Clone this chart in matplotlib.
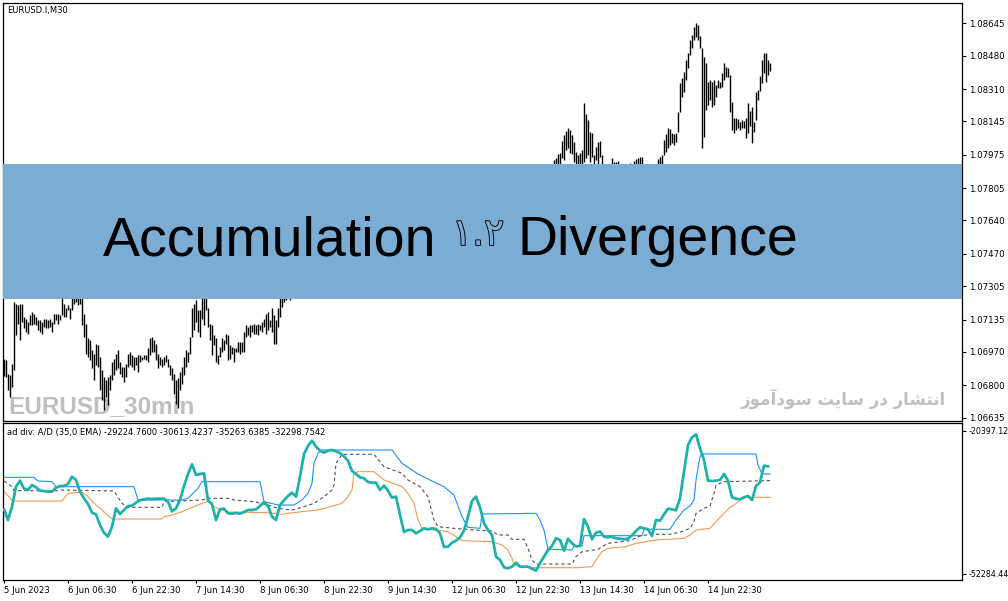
import numpy as np
import matplotlib
matplotlib.use('Agg')
import matplotlib.pyplot as plt
import matplotlib.patheffects as pe
from matplotlib import font_manager
from matplotlib.patches import Rectangle

# EURUSD M30 bars, price in points (1e-5) above 1.00000
bar_high = [
    6936, 6928, 6860, 6851, 6911, 7225, 7217, 7208, 7217, 7214,
    7149, 7140, 7124, 7158, 7175, 7166, 7149, 7132, 7132, 7124,
    7140, 7140, 7132, 7140, 7124, 7166, 7166, 7166, 7158, 7265,
    7217, 7192, 7208, 7192, 7270, 7290, 7300, 7280, 7275, 7260,
    7166, 7115, 7039, 7030, 6979, 6962, 7013, 7005, 6945, 6877,
    6843, 6826, 6843, 6851, 6920, 6936, 6962, 6979, 6920, 6894,
    6894, 6911, 6962, 6970, 6953, 6945, 6945, 6953, 6953, 6945,
    6953, 6953, 6988, 7039,
    7047, 7030, 7013, 6962, 6945, 6936, 6945, 6953, 6936, 6903,
    6886, 6860, 6826, 6835, 6868, 6894, 6945, 6979, 6970, 7047,
    7192, 7217, 7234, 7183, 7183, 7270, 7260, 7280, 7192, 7115,
    7107, 7056, 7039, 6953, 6996, 7039, 7030, 7064, 7056, 7005,
    6996, 6988, 6988, 7022, 7022, 7022, 7073, 7107, 7098, 7107,
    7107, 7115, 7107, 7115, 7107, 7124, 7140, 7166, 7175, 7132,
    7192, 7158, 7132, 7192, 7300, 7310, 7320, 7330, 7340, 7335,
    7330, 7370, 7420, 7480, 7460, 7530, 7590, 7650, 7700, 7760,
    7745, 7720, 7705, 7735, 7765, 7790, 7805, 7790, 7775, 7770,
    7780, 7795, 7805, 7795, 7780, 7775, 7790, 7805, 7815, 7800,
    7790, 7775, 7765, 7755, 7745, 7735, 7730, 7750, 7760, 7740,
    7720, 7700, 7690, 7715, 7735, 7750, 7770, 7760, 7740, 7725,
    7700, 7680, 7665, 7650, 7645, 7630, 7620, 7615, 7600, 7590,
    7585, 7570, 7560, 7550, 7540, 7520, 7500, 7485, 7460, 7450,
    7470, 7505, 7520, 7555, 7570, 7590, 7605, 7580, 7560, 7545,
    7520, 7505, 7480, 7465, 7450, 7440, 7430, 7420, 7435, 7440,
    7455, 7440, 7430, 7420, 7410, 7400, 7395, 7380, 7370, 7385,
    7390, 7405, 7420, 7445, 7460, 7485, 7500, 7490, 7480, 7470,
    7485, 7500, 7525, 7540, 7565, 7580, 7600, 7625, 7640, 7665,
    7680, 7705, 7720, 7745, 7760, 7785, 7800, 7820, 7845, 7860, 7885,
    7948, 7957, 7977, 7985, 8045, 8075, 8096, 8109, 8101, 8075,
    8041, 7990, 7973, 7982, 7999, 8237, 8181, 8152, 8092, 8084,
    7973, 8016, 8041, 8045, 7973, 7920, 7910, 7915, 7905, 7960,
    7940, 7940, 7945, 7920, 7915, 7910, 7905, 7915, 7932, 7925,
    7943, 7953, 7960, 7965, 7965, 7930, 7925, 7915, 7905, 7900,
    7910, 7920, 7953, 7965, 7973, 8050, 8079, 8109, 8104, 8084,
    8079, 8084, 8194, 8339, 8364, 8398, 8458, 8492, 8560, 8585,
    8628, 8645, 8636, 8582, 8517, 8475, 8441, 8348, 8356, 8348,
    8356, 8331, 8356, 8348, 8390, 8441, 8424, 8415, 8381, 8245,
    8160, 8160, 8157, 8143, 8152, 8147, 8160, 8239, 8200, 8218,
    8142, 8295, 8305, 8376, 8458, 8494, 8494, 8458, 8443,
]
bar_low = [
    6846, 6840, 6775, 6741, 6792, 6877, 7055, 7115, 7030, 7124,
    7090, 7073, 7064, 7107, 7107, 7115, 7107, 7081, 7073, 7064,
    7098, 7090, 7090, 7098, 7073, 7115, 7132, 7115, 7132, 7158,
    7149, 7149, 7183, 7140, 7183, 7217, 7225, 7208, 7217, 7107,
    7047, 6962, 6945, 6928, 6886, 6826, 6903, 6894, 6775, 6724,
    6673, 6741, 6699, 6775, 6826, 6851, 6877, 6886, 6860, 6843,
    6818, 6843, 6894, 6903, 6894, 6877, 6903, 6869, 6920, 6928,
    6936, 6928, 6920, 6953,
    6970, 6970, 6928, 6886, 6903, 6894, 6903, 6920, 6894, 6851,
    6826, 6758, 6707, 6682, 6775, 6809, 6851, 6894, 6920, 6962,
    7047, 7081, 7124, 7073, 7047, 7140, 7107, 7183, 7098, 7030,
    6953, 7005, 6920, 6911, 6945, 6970, 6979, 7013, 6928, 6936,
    6962, 6920, 6970, 6970, 6962, 6970, 6970, 7047, 7056, 7047,
    7073, 7064, 7064, 7056, 7081, 7073, 7098, 7064, 7081, 7098,
    7073, 7013, 7013, 7098, 7149, 7200, 7225, 7234, 7250, 7234,
    7250, 7285, 7330, 7395, 7400, 7430, 7505, 7550, 7610, 7665,
    7680, 7650, 7640, 7670, 7700, 7720, 7750, 7740, 7735, 7730,
    7740, 7750, 7760, 7755, 7745, 7740, 7750, 7765, 7770, 7760,
    7745, 7730, 7720, 7700, 7690, 7680, 7670, 7690, 7700, 7680,
    7650, 7630, 7620, 7640, 7660, 7680, 7700, 7690, 7660, 7640,
    7610, 7590, 7570, 7560, 7550, 7540, 7530, 7520, 7510, 7500,
    7490, 7480, 7470, 7460, 7440, 7420, 7400, 7380, 7370, 7360,
    7380, 7410, 7430, 7460, 7490, 7510, 7520, 7500, 7480, 7460,
    7440, 7420, 7400, 7380, 7370, 7360, 7350, 7340, 7350, 7360,
    7370, 7360, 7350, 7330, 7320, 7310, 7300, 7290, 7280, 7290,
    7300, 7310, 7330, 7350, 7370, 7390, 7410, 7400, 7390, 7380,
    7390, 7410, 7430, 7450, 7470, 7490, 7510, 7530, 7550, 7570,
    7590, 7610, 7630, 7650, 7670, 7690, 7710, 7730, 7750, 7770, 7800,
    7900, 7905, 7920, 7930, 7957, 7948, 8000, 8007, 7982, 7977,
    7940, 7925, 7915, 7925, 7930, 7940, 7957, 7973, 7940, 7965,
    7910, 7948, 7925, 7965, 7925, 7870, 7860, 7865, 7855, 7900,
    7895, 7925, 7900, 7880, 7870, 7865, 7860, 7870, 7890, 7885,
    7895, 7905, 7910, 7930, 7915, 7880, 7875, 7860, 7850, 7845,
    7855, 7870, 7900, 7930, 7920, 7973, 7990, 8007, 8024, 8033,
    8024, 8041, 8092, 8194, 8271, 8296, 8356, 8415, 8483, 8517,
    8560, 8577, 8560, 8517, 8011, 8067, 8203, 8228, 8254, 8220,
    8228, 8271, 8313, 8313, 8322, 8356, 8373, 8373, 8194, 8101,
    8084, 8101, 8109, 8101, 8109, 8109, 8062, 8086, 8120, 8035,
    8090, 8150, 8254, 8300, 8341, 8392, 8346, 8382, 8402,
]

# A/D line, one reading every 2 bars
ad_line = [
    -37895, -40268, -37301, -32851, -31516, -33296, -33593, -32480, -32999, -33741,
    -33815, -33964, -33964, -33074, -32703, -32703, -32258, -30626, -31368, -33964,
    -35447, -36708, -38636, -39007, -41381, -43086, -43977, -41751, -37672, -38933,
    -38043, -37153, -37079, -36411, -35892, -35669, -35521, -35595, -35521, -35521,
    -35521, -36189, -38340, -37672, -35818, -32703, -30033, -27882, -30255, -30033,
    -29884, -35892, -36708, -40268, -37895, -37746, -38785, -38859, -38710, -38859,
    -38488, -38043, -38043, -37895, -37153, -36263, -37153, -39526, -40268, -36930,
    -35892, -34928, -34186, -35076, -30626, -25582, -23802, -22616, -23951, -24841,
    -25286, -24841, -24692, -24989, -25360, -26102, -27066, -29365, -30033, -30774,
    -30997, -31813, -31961, -31961, -33593, -32628, -33741, -35299, -35076, -39155,
    -42938, -42493, -42493, -43235, -42716, -42122, -42345, -42122, -42271, -43235,
    -46276, -46202, -45312, -44867, -44125, -42641, -39526, -36040, -35076, -37450,
    -41010, -42493, -43606, -48427, -49168,
    -50800, -51023, -50652, -49762, -50652, -50652, -50652, -51097, -51542, -49910,
    -48427, -46943, -46053, -44347, -44718, -47092, -44422, -45460, -46127, -46053,
    -40045, -41751, -44570, -43086, -42864, -43977, -44125, -43977, -44347, -44422,
    -44570, -44422, -43680, -42716, -41900, -42122, -42345, -43828, -40268, -40416,
    -39007, -37746, -37895, -38117, -35447, -29513, -23580, -21874, -21206, -24321,
    -26917, -31516, -31590, -31516, -31368, -30033, -31516, -35224, -35521, -35669,
    -35224, -34928, -35818, -32703, -31887, -28178, -28327,
]

# channel lines as (bar index, value) readings
upper_idx = [0, 15, 17, 24, 26, 65, 67, 89, 92, 97, 99, 128, 130, 137, 145, 149,
             152, 154, 155, 157, 159, 194, 199, 207, 214, 220, 225, 229, 232, 238,
             239, 266, 268, 270, 272, 284, 285, 289, 290, 319, 320, 333, 336, 340,
             343, 345, 346, 348, 349, 376, 377, 379, 383]
upper_val = [-30774, -30774, -31590, -31738, -32851, -32851, -35818, -35818, -35447,
             -33222, -31738, -31738, -36189, -36930, -36930, -35818, -34334, -32109,
             -27659, -25434, -24692, -24692, -27659, -30033, -31590, -32851, -34705,
             -39526, -41900, -42122, -38933, -38785, -40268, -42493, -46795, -46943,
             -46053, -46053, -43754, -43754, -42345, -42345, -40268, -38043, -37153,
             -35818, -31368, -26176, -25582, -25582, -28030, -30033, -30033]

mid_idx = [0, 4, 5, 27, 29, 55, 59, 62, 79, 80, 99, 102, 112, 115, 125, 132, 137,
           144, 149, 155, 160, 164, 165, 166, 169, 185, 190, 199, 202, 208, 212, 215,
           217, 225, 235, 244, 247, 252, 254, 260, 262, 264, 266, 284, 286, 289, 297,
           299, 302, 313, 318, 323, 333, 339, 343, 345, 346, 350, 353, 355, 356, 360, 383]
mid_val = [-31590, -32851, -33741, -33741, -33593, -33815, -36560, -37449, -37449,
           -36189, -35818, -35447, -35447, -35818, -36189, -36930, -37672, -38043,
           -37449, -36560, -35076, -33593, -32480, -27659, -25657, -25657, -28401,
           -29884, -31368, -32851, -35076, -40268, -41751, -42122, -42493, -42716,
           -43606, -43606, -44570, -44570, -46572, -49168, -50058, -50058, -48427,
           -47314, -46795, -46202, -45460, -44867, -43828, -43457, -43457, -42864,
           -42122, -40639, -38785, -37672, -37153, -34334, -32480, -31738, -31516]

lower_idx = [0, 4, 5, 29, 32, 39, 42, 45, 49, 54, 79, 80, 84, 89, 95, 99, 102, 105,
             112, 132, 139, 142, 149, 157, 162, 169, 172, 174, 175, 177, 185, 190, 199,
             202, 205, 207, 209, 215, 222, 226, 229, 244, 249, 252, 254, 255, 259, 265,
             287, 294, 296, 299, 302, 311, 316, 326, 340, 343, 346, 353, 356, 360, 363,
             365, 370, 383]
lower_val = [-33964, -35818, -36040, -36040, -34334, -34037, -35076, -36560, -38043,
             -40045, -40045, -39526, -39155, -38414, -37301, -36560, -36189, -37301,
             -38488, -38636, -39007, -38785, -38414, -38043, -37449, -36560, -35076,
             -33593, -29884, -29513, -29513, -31368, -32851, -34334, -36560, -40268,
             -42122, -42493, -42864, -43977, -44867, -45089, -45831, -46943, -48798,
             -50281, -50652, -50875, -50875, -50652, -49168, -47314, -46572, -46202,
             -45460, -44719, -44347, -43606, -42493, -42122, -40639, -38785, -37449,
             -36930, -35224, -35224]

price_ticks = [1.08645, 1.08480, 1.08310, 1.08145, 1.07975, 1.07805, 1.07640,
               1.07470, 1.07305, 1.07135, 1.06970, 1.06800, 1.06635]
ad_ticks = [-20397.12, -52284.44]
time_labels = ['5 Jun 2023', '6 Jun 06:30', '6 Jun 22:30', '7 Jun 14:30',
               '8 Jun 06:30', '8 Jun 22:30', '9 Jun 14:30', '12 Jun 06:30',
               '12 Jun 22:30', '13 Jun 14:30', '14 Jun 06:30', '14 Jun 22:30']
label_step = 32

plt.rcParams['font.family'] = ['DejaVu Sans']

W, H = 1008, 601
fig = plt.figure(figsize=(W / 100, H / 100), dpi=100)
fig.patch.set_facecolor('white')

def fx(px): return px / W
def fy(py): return 1 - py / H

ax = fig.add_axes([fx(3), fy(421), (962 - 3) / W, (421 - 3) / H])
ax2 = fig.add_axes([fx(3), fy(580), (962 - 3) / W, (580 - 423) / H])

high = 1 + np.array(bar_high) / 1e5
low = 1 + np.array(bar_low) / 1e5
idx = np.arange(len(high))
ax.vlines(idx, low, high, color='black', linewidth=1.0, zorder=3)

xmin = -0.5
xmax = xmin + (962 - 3) / 2
for a in (ax, ax2):
    a.set_xlim(xmin, xmax)
    for s in a.spines.values():
        s.set_linewidth(0.9)
        s.set_color('black')

ax.set_ylim(1.066182, 1.087484)
ax.yaxis.tick_right()
ax.set_yticks(price_ticks)
ax.set_yticklabels([f'{p:.5f}' for p in price_ticks])
ax.tick_params(axis='y', length=3, width=0.8, labelsize=6.2, pad=2)
ax.set_xticks([])

# channel + A/D lines
ax2.plot(upper_idx, upper_val, color='#1E90FF', lw=0.8, zorder=2)
ax2.plot(lower_idx, lower_val, color='#F39A52', lw=0.8, zorder=2)
ax2.plot(mid_idx, mid_val, color='#505050', lw=0.8, dashes=(3, 2.5), zorder=2)
ad_x = np.arange(0, 2 * len(ad_line), 2)
ax2.plot(ad_x, ad_line, color='#20B2AA', lw=2.0, zorder=3,
         solid_joinstyle='round')
ax2.set_ylim(-53620, -18684)
ax2.yaxis.tick_right()
ax2.set_yticks(ad_ticks)
ax2.set_yticklabels([f'{v:.2f}' for v in ad_ticks])
ax2.tick_params(axis='y', length=3, width=0.8, labelsize=5.7, pad=1.5)
ax2.set_xticks(np.arange(len(time_labels)) * label_step)
ax2.set_xticklabels(time_labels, ha='left')
ax2.tick_params(axis='x', length=2, width=0.8, labelsize=6.1, pad=2)

# small captions
ax.text(fx(7), fy(11), 'EURUSD.I,M30', transform=fig.transFigure,
        fontsize=6.0, va='center', ha='left', zorder=5)
ax2.text(fx(7), fy(432),
         'ad div: A/D (35,0 EMA) -29224.7600 -30613.4237 -35263.6385 -32298.7542',
         transform=fig.transFigure, fontsize=6.0, va='center', ha='left', zorder=5)

# watermarks (behind the bars)
names = {f.name for f in font_manager.fontManager.ttflist}
narrow = 'Liberation Sans Narrow' if 'Liberation Sans Narrow' in names else 'Liberation Sans'
ax.text(fx(8), fy(413), 'EURUSD_30min', transform=fig.transFigure,
        family=narrow, fontweight='bold',
        fontsize=22 if narrow != 'Liberation Sans' else 17.5,
        color='#BFBFBF', va='baseline', ha='left', zorder=1)

fa_words = [
    '\uFEAF\uFEEE\uFEE3\uFE81\uFEA9\uFEEE\uFEB3',   # سودآموز
    '\uFE96\uFEF3\uFE8E\uFEB3',                     # سایت
    '\uFEAD\uFEA9',                                 # در
    '\uFEAD\uFE8E\uFEB8\uFE98\uFEE7\uFE8D',         # انتشار
]
ax.text(fx(946), fy(405), ' '.join(fa_words), transform=fig.transFigure,
        fontsize=12, fontweight='bold', color='#C0C0C0',
        va='baseline', ha='right', zorder=1)

# title banner
banner_col = '#7AACD4'
fig.add_artist(Rectangle((fx(3), fy(299)), (962 - 3) / W, (299 - 164) / H,
                         transform=fig.transFigure, facecolor=banner_col,
                         edgecolor='none', zorder=5))
fig.text(fx(103), fy(255), 'Accumulation', family='Liberation Sans',
         fontsize=40, va='baseline', ha='left', zorder=6)
fig.text(fx(518), fy(255), 'Divergence', family='Liberation Sans',
         fontsize=40, va='baseline', ha='left', zorder=6)
fig.text(fx(452), fy(245), '\u06F1.\u06F2', fontsize=27, color=banner_col,
         va='baseline', ha='left', zorder=6,
         path_effects=[pe.withStroke(linewidth=1.3, foreground='black')])

fig.savefig('out.png', dpi=100)
